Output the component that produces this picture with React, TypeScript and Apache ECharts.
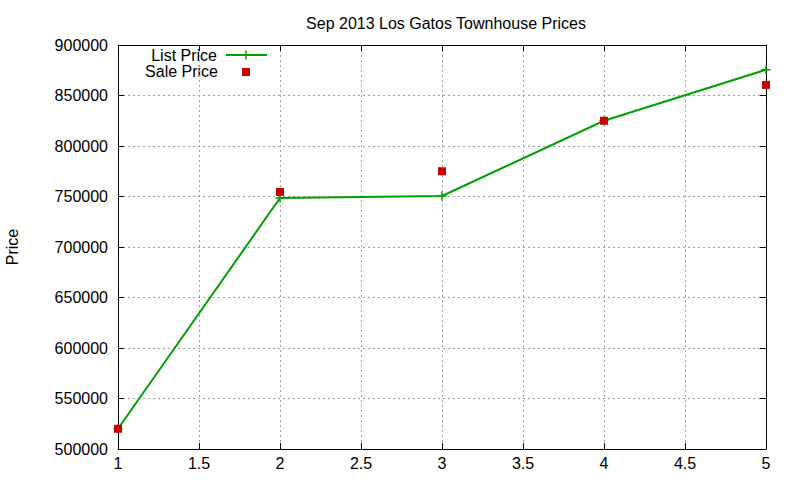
import React, { useEffect, useRef } from "react";
import * as echarts from "echarts";

const xValues = [1, 2, 3, 4, 5];
const listPrice = [520000, 748500, 750500, 825000, 875500];
const salePrice = [520000, 754500, 775000, 825000, 860500];
const seriesNames = ["List Price", "Sale Price"];
const titleText = "Sep 2013 Los Gatos Townhouse Prices";
const yAxisName = "Price";

const GREEN = "#00a000";
const RED = "#cc0000";
const FONT = "'Liberation Sans', Arial, sans-serif";

export default function App() {
  const ref = useRef<HTMLDivElement>(null);
  useEffect(() => {
    if (!ref.current) return;
    const chart = echarts.init(ref.current, null, { renderer: "svg" });
    const tickStyle = { show: true, inside: true, length: 6, lineStyle: { color: "#000", width: 1 } };
    const axisLine = { show: true, onZero: false, lineStyle: { color: "#000", width: 1 } };
    const splitLine = { show: true, lineStyle: { color: "#a0a0a0", width: 1, type: [2, 3] as any } };
    chart.setOption({
      animation: false,
      backgroundColor: "#fff",
      textStyle: { fontFamily: FONT },
      title: {
        text: titleText,
        left: 441,
        textAlign: "center",
        top: 10,
        textStyle: { fontSize: 16, fontWeight: "normal", color: "#000", fontFamily: FONT },
      },
      grid: { left: 118, right: 34, top: 45, bottom: 31, containLabel: false, outerBoundsMode: "none" },
      xAxis: [
        {
          type: "value",
          min: 1,
          max: 5,
          interval: 0.5,
          axisLine,
          axisTick: tickStyle,
          splitLine,
          axisLabel: { color: "#000", fontSize: 16, margin: 6, fontFamily: FONT },
        },
        {
          type: "value",
          position: "top",
          min: 1,
          max: 5,
          interval: 0.5,
          axisLine,
          axisTick: tickStyle,
          splitLine: { show: false },
          axisLabel: { show: false },
        },
      ],
      yAxis: [
        {
          type: "value",
          min: 500000,
          max: 900000,
          interval: 50000,
          name: yAxisName,
          nameLocation: "middle",
          nameRotate: 90,
          nameGap: 98,
          nameTextStyle: { color: "#000", fontSize: 16, fontFamily: FONT },
          axisLine,
          axisTick: tickStyle,
          splitLine,
          axisLabel: { color: "#000", fontSize: 16, margin: 10, fontFamily: FONT, formatter: (v: number) => String(v) },
        },
        {
          type: "value",
          position: "right",
          min: 500000,
          max: 900000,
          interval: 50000,
          axisLine,
          axisTick: tickStyle,
          splitLine: { show: false },
          axisLabel: { show: false },
        },
      ],
      series: [
        {
          name: seriesNames[0],
          type: "line",
          data: xValues.map((x, i) => [x, listPrice[i]]),
          symbol: "path://M5,0L5,10M0,5L10,5",
          symbolSize: 9,
          showAllSymbol: true,
          itemStyle: { color: GREEN, borderColor: GREEN, borderWidth: 1.5 },
          lineStyle: { color: GREEN, width: 2 },
          z: 3,
        },
        {
          name: seriesNames[1],
          type: "scatter",
          data: xValues.map((x, i) => [x, salePrice[i]]),
          symbol: "rect",
          symbolSize: 8,
          itemStyle: { color: RED, opacity: 1 },
          z: 4,
        },
      ],
      graphic: [
        {
          type: "text",
          x: 217,
          y: 55,
          style: { text: seriesNames[0], fill: "#000", font: `16px ${FONT}`, textAlign: "right", textVerticalAlign: "middle" },
        },
        {
          type: "line",
          shape: { x1: 226, y1: 55, x2: 267, y2: 55 },
          style: { stroke: GREEN, lineWidth: 2 },
        },
        {
          type: "line",
          shape: { x1: 246, y1: 50.5, x2: 246, y2: 59.5 },
          style: { stroke: GREEN, lineWidth: 1.5 },
        },
        {
          type: "line",
          shape: { x1: 241.5, y1: 55, x2: 250.5, y2: 55 },
          style: { stroke: GREEN, lineWidth: 1.5 },
        },
        {
          type: "text",
          x: 218,
          y: 71,
          style: { text: seriesNames[1], fill: "#000", font: `16px ${FONT}`, textAlign: "right", textVerticalAlign: "middle" },
        },
        {
          type: "rect",
          shape: { x: 242, y: 68, width: 8, height: 8 },
          style: { fill: RED },
        },
      ],
    });
    return () => chart.dispose();
  }, []);
  return <div ref={ref} style={{ width: 800, height: 480, position: "fixed", left: 0, top: 0 }} />;
}
